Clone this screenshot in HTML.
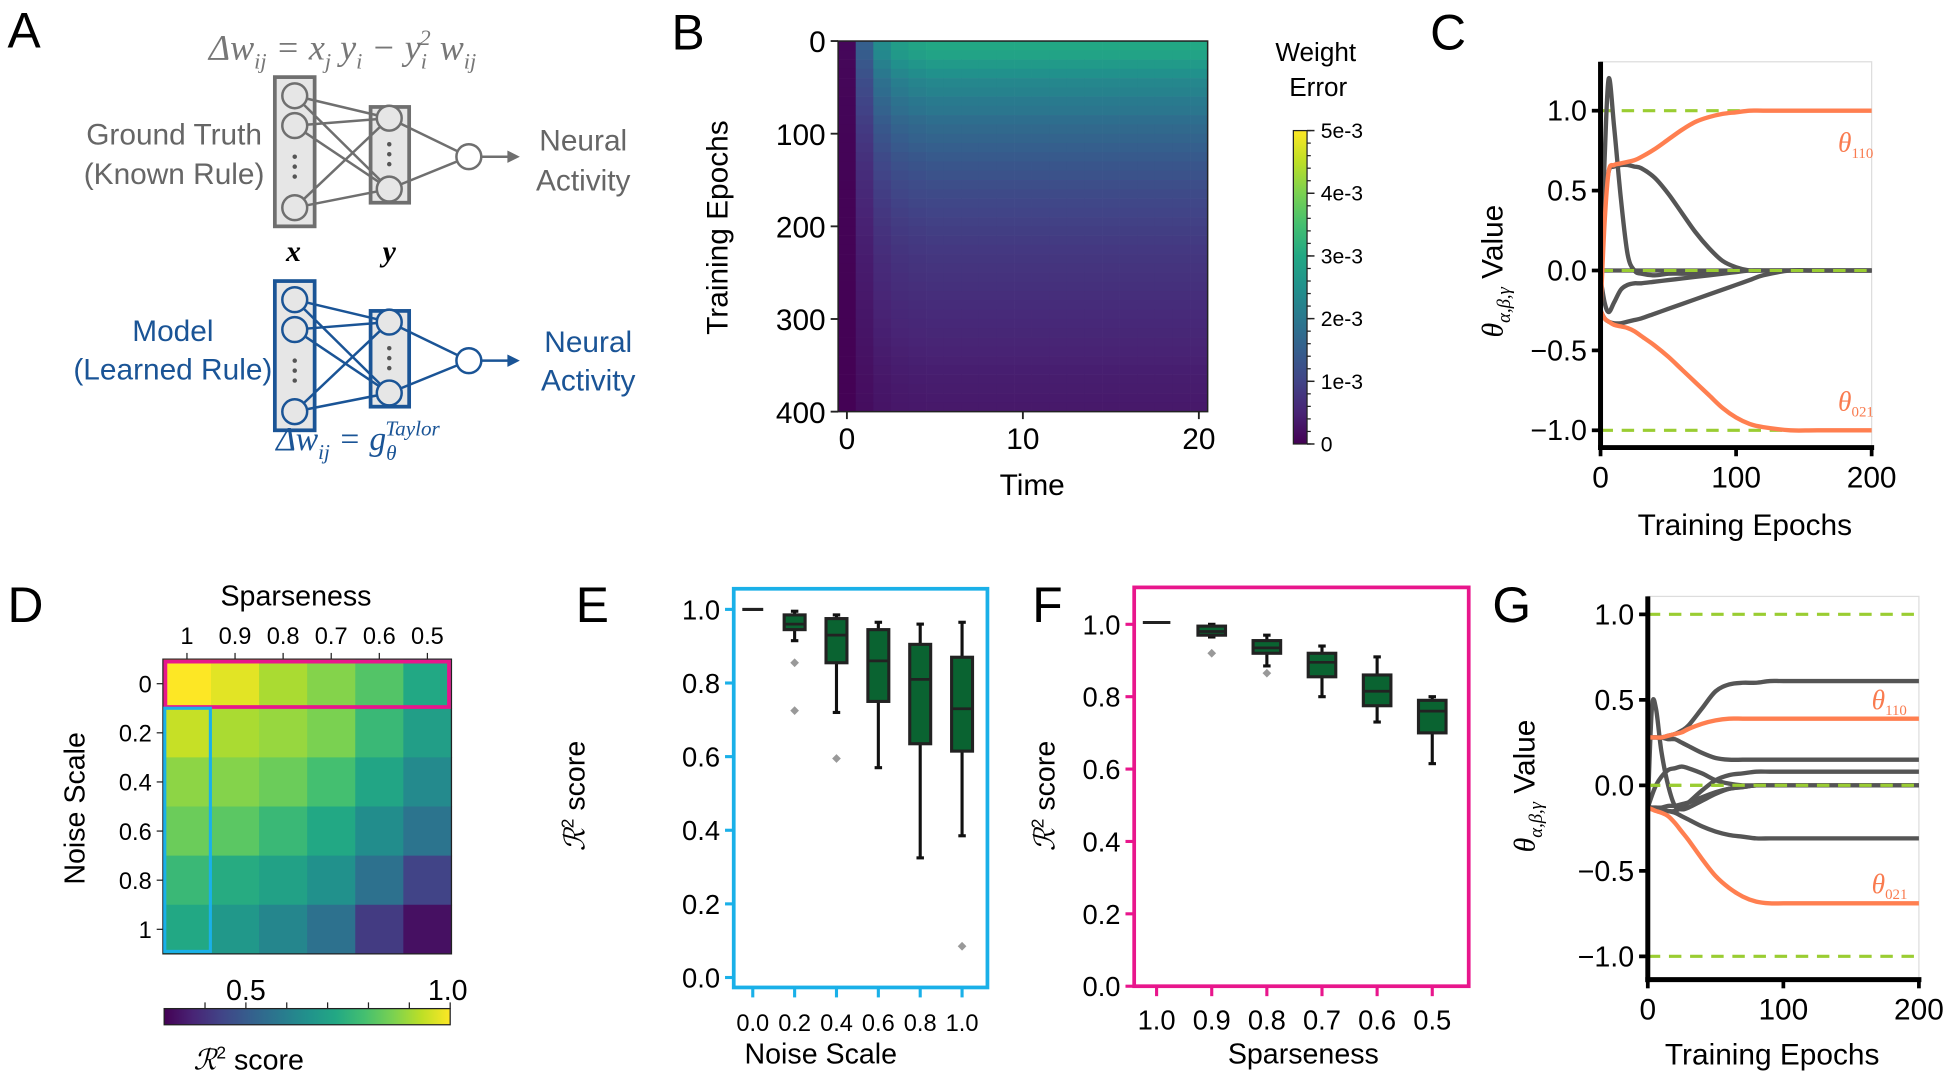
<!DOCTYPE html>
<html><head><meta charset="utf-8">
<style>
html,body{margin:0;padding:0;background:#fff;}
svg{display:block;}
text{font-family:"Liberation Sans",sans-serif;}
.m{font-family:"Liberation Serif",serif;font-style:italic;}
</style></head>
<body>
<svg id="fig" width="1950" height="1077" viewBox="0 0 1568 866" preserveAspectRatio="none" xmlns="http://www.w3.org/2000/svg">
<defs>
<linearGradient id="vir-h" x1="0" y1="0" x2="1" y2="0"></linearGradient>
<linearGradient id="vir-v" x1="0" y1="1" x2="0" y2="0"></linearGradient>
</defs>
<!-- Panel A -->
<g>
<text x="6" y="38" font-size="40">A</text>
<text x="168" y="48" font-size="29" fill="#777" class="m">Δw<tspan font-size="18" dy="7">ij</tspan><tspan dy="-7"> = x</tspan><tspan font-size="18" dy="7">j</tspan><tspan dy="-7"> y</tspan><tspan font-size="18" dy="7">i</tspan><tspan dy="-7"> − y</tspan><tspan font-size="18" dy="7">i</tspan><tspan font-size="18" dy="-19" dx="-6">2</tspan><tspan dy="12"> w</tspan><tspan font-size="18" dy="7">ij</tspan></text>
<g id="netTop"></g>
<g id="netBot"></g>
<text x="140" y="116" font-size="24" fill="#666" text-anchor="middle">Ground Truth</text>
<text x="140" y="148" font-size="24" fill="#666" text-anchor="middle">(Known Rule)</text>
<text x="469" y="121" font-size="24" fill="#666" text-anchor="middle">Neural</text>
<text x="469" y="153" font-size="24" fill="#666" text-anchor="middle">Activity</text>
<text x="236" y="210" font-size="24" font-weight="bold" class="m" text-anchor="middle">x</text>
<text x="313" y="210" font-size="24" font-weight="bold" class="m" text-anchor="middle">y</text>
<text x="139" y="274" font-size="24" fill="#1a5496" text-anchor="middle">Model</text>
<text x="139" y="305" font-size="24" fill="#1a5496" text-anchor="middle">(Learned Rule)</text>
<text x="473" y="283" font-size="24" fill="#1a5496" text-anchor="middle">Neural</text>
<text x="473" y="314" font-size="24" fill="#1a5496" text-anchor="middle">Activity</text>
<text x="222" y="362" font-size="27" fill="#1a5496" class="m">Δw<tspan font-size="17" dy="7">ij</tspan><tspan dy="-7"> = g</tspan><tspan font-size="17" dy="8">θ</tspan><tspan font-size="17" dy="-20" dx="-9">Taylor</tspan></text>
</g>
<!-- Panel B -->
<g>
<text x="540" y="40" font-size="40">B</text>
<g id="bHeat"></g>
<g id="bAxes"></g>
<text transform="translate(585,183) rotate(-90)" font-size="24" text-anchor="middle">Training Epochs</text>
<text x="830" y="398" font-size="24" text-anchor="middle">Time</text>
<text x="1058" y="49" font-size="21" text-anchor="middle">Weight</text>
<text x="1060" y="77" font-size="21" text-anchor="middle">Error</text>
<rect x="1040" y="105" width="11" height="252" fill="url(#vir-v)" stroke="#222" stroke-width="1"/>
<g id="bCbar"></g>
</g>
<!-- Panel C -->
<g>
<text x="1150" y="40" font-size="40">C</text>
<g id="cPlot"></g>
<text x="1403" y="430" font-size="24" text-anchor="middle">Training Epochs</text>
<text transform="translate(1208,218) rotate(-90)" font-size="24" text-anchor="middle"><tspan class="m">θ</tspan><tspan class="m" font-size="15" dy="6">α,β,γ</tspan><tspan dy="-6"> Value</tspan></text>
<text x="1478" y="122" font-size="22" fill="#f97b4f" class="m">θ<tspan font-size="12" dy="5" font-style="normal">110</tspan></text>
<text x="1478" y="330" font-size="22" fill="#f97b4f" class="m">θ<tspan font-size="12" dy="5" font-style="normal">021</tspan></text>
</g>
<!-- Panel D -->
<g>
<text x="6" y="500" font-size="40">D</text>
<text x="238" y="487" font-size="23" text-anchor="middle">Sparseness</text>
<g id="dHeat"></g>
<text transform="translate(68,650) rotate(-90)" font-size="23" text-anchor="middle">Noise Scale</text>
<rect x="132" y="811" width="230" height="13" fill="url(#vir-h)" stroke="#222" stroke-width="1"/>
<g id="dCbar"></g>
<text x="200" y="860" font-size="23" text-anchor="middle"><tspan class="m" font-family="Liberation Serif">ℛ</tspan><tspan font-size="14" dy="-9">2</tspan><tspan dy="9"> score</tspan></text>
</g>
<!-- Panel E -->
<g>
<text x="463" y="500" font-size="40">E</text>
<g id="ePlot"></g>
<text transform="translate(470,640) rotate(-90)" font-size="23" text-anchor="middle"><tspan class="m">ℛ</tspan><tspan font-size="14" dy="-9">2</tspan><tspan dy="9"> score</tspan></text>
<text x="660" y="855" font-size="23" text-anchor="middle">Noise Scale</text>
</g>
<!-- Panel F -->
<g>
<text x="830" y="500" font-size="40">F</text>
<g id="fPlot"></g>
<text transform="translate(848,640) rotate(-90)" font-size="23" text-anchor="middle"><tspan class="m">ℛ</tspan><tspan font-size="14" dy="-9">2</tspan><tspan dy="9"> score</tspan></text>
<text x="1048" y="855" font-size="23" text-anchor="middle">Sparseness</text>
</g>
<!-- Panel G -->
<g>
<text x="1200" y="500" font-size="40">G</text>
<g id="gPlot"></g>
<text x="1425" y="856" font-size="24" text-anchor="middle">Training Epochs</text>
<text transform="translate(1234,632) rotate(-90)" font-size="24" text-anchor="middle"><tspan class="m">θ</tspan><tspan class="m" font-size="15" dy="6">α,β,γ</tspan><tspan dy="-6"> Value</tspan></text>
<text x="1505" y="570" font-size="22" fill="#f97b4f" class="m">θ<tspan font-size="12" dy="5" font-style="normal">110</tspan></text>
<text x="1505" y="718" font-size="22" fill="#f97b4f" class="m">θ<tspan font-size="12" dy="5" font-style="normal">021</tspan></text>
</g>
</svg>
<script>
// ---------- DATA ----------
// Panel B: mean weight error (x1e-3) per 10-epoch band, and per-time-step factor
const bEpochBands = [3.0,2.9,2.7,2.5,2.3,2.2,2.05,1.95,1.8,1.7,1.6,1.5,1.4,1.32,1.25,1.18,1.12,1.06,1.0,0.95,0.9,0.86,0.82,0.78,0.75,0.72,0.69,0.66,0.63,0.6,0.57,0.54,0.51,0.48,0.45,0.42,0.4,0.38,0.36,0.34];
const bTimeFactor = [0.03,0.5,0.8,0.92,0.97,1,1,1,1,1,1,1,1,1,1,1,1,1,1,1,1];
const bYTicks = [0,100,200,300,400];
const bXTicks = [0,10,20];
const bCbarTicks = [0,1,2,3,4,5];
const bCbarLabels = ['0','1e-3','2e-3','3e-3','4e-3','5e-3'];
// Panel C lines
const cEpochs = [0,3,6,10,15,20,25,30,40,50,60,70,80,90,100,110,120,140,160,200];
const cTheta110 = [-0.25,0.3,0.62,0.66,0.67,0.68,0.69,0.71,0.76,0.82,0.88,0.93,0.96,0.98,0.99,1.0,1.0,1.0,1.0,1.0];
const cTheta021 = [-0.25,-0.3,-0.32,-0.34,-0.35,-0.36,-0.38,-0.41,-0.47,-0.54,-0.62,-0.7,-0.78,-0.86,-0.92,-0.96,-0.98,-1.0,-1.0,-1.0];
const cGrayA = [0,0.7,1.2,0.9,0.45,0.1,0.0,-0.02,-0.03,-0.02,-0.02,-0.02,-0.01,-0.01,0,0,0,0,0,0];
const cGrayB = [0,0.4,0.62,0.65,0.66,0.66,0.65,0.64,0.58,0.48,0.36,0.24,0.14,0.06,0.02,0.0,0,0,0,0];
const cGrayC = [-0.05,-0.2,-0.26,-0.2,-0.12,-0.09,-0.08,-0.08,-0.07,-0.06,-0.05,-0.04,-0.03,-0.02,-0.01,0,0,0,0,0];
const cGrayD = [-0.25,-0.3,-0.32,-0.33,-0.33,-0.32,-0.31,-0.3,-0.27,-0.24,-0.21,-0.18,-0.15,-0.12,-0.09,-0.06,-0.03,0,0,0];
const cGrayE = [0,0,0,0,0,0,0,0,0,0,0,0,0,0,0,0,0,0,0,0];
// Panel D heatmap
const dNoise = ['0','0.2','0.4','0.6','0.8','1'];
const dSparse = ['1','0.9','0.8','0.7','0.6','0.5'];
const dValues = [
 [1.00,0.97,0.91,0.87,0.81,0.72],
 [0.94,0.91,0.89,0.86,0.77,0.69],
 [0.88,0.87,0.84,0.79,0.71,0.63],
 [0.84,0.82,0.77,0.72,0.64,0.57],
 [0.77,0.73,0.70,0.65,0.56,0.44],
 [0.72,0.67,0.62,0.56,0.42,0.33]];
const dCbarTicks = [0.4,0.5,0.6,0.7,0.8,0.9,1.0];
// Panel E boxplots
const eCats = ['0.0','0.2','0.4','0.6','0.8','1.0'];
const eLo  = [1.0,0.915,0.72,0.57,0.325,0.385];
const eQ1  = [1.0,0.945,0.855,0.75,0.635,0.615];
const eMed = [1.0,0.96,0.93,0.86,0.81,0.73];
const eQ3  = [1.0,0.985,0.975,0.945,0.905,0.87];
const eHi  = [1.0,0.995,0.985,0.965,0.96,0.965];
const eOut = [[],[0.855,0.725],[0.595],[],[],[0.085]];
const eYTicks = [0,0.2,0.4,0.6,0.8,1.0];
// Panel F boxplots
const fCats = ['1.0','0.9','0.8','0.7','0.6','0.5'];
const fLo  = [1.005,0.965,0.885,0.80,0.73,0.615];
const fQ1  = [1.005,0.97,0.92,0.855,0.775,0.70];
const fMed = [1.005,0.98,0.935,0.895,0.815,0.76];
const fQ3  = [1.005,0.995,0.955,0.92,0.86,0.79];
const fHi  = [1.005,1.0,0.97,0.94,0.91,0.80];
const fOut = [[],[0.92],[0.865],[],[],[]];
const fYTicks = [0,0.2,0.4,0.6,0.8,1.0];
// Panel G lines
const gEpochs = [0,3,6,10,15,20,25,30,40,50,60,70,80,90,100,120,150,200];
const gTheta110 = [0.28,0.28,0.28,0.28,0.29,0.3,0.31,0.33,0.36,0.38,0.39,0.39,0.39,0.39,0.39,0.39,0.39,0.39];
const gTheta021 = [-0.13,-0.14,-0.15,-0.16,-0.18,-0.22,-0.27,-0.32,-0.43,-0.53,-0.6,-0.65,-0.68,-0.69,-0.69,-0.69,-0.69,-0.69];
const gGrayA = [0.28,0.28,0.28,0.28,0.29,0.3,0.32,0.35,0.45,0.55,0.59,0.6,0.6,0.61,0.61,0.61,0.61,0.61];
const gGrayB = [-0.13,0.45,0.45,0.2,0.0,-0.12,-0.14,-0.13,-0.09,-0.05,-0.02,-0.01,0,0,0,0,0,0];
const gGrayC = [0.28,0.28,0.28,0.28,0.27,0.27,0.25,0.23,0.19,0.16,0.15,0.15,0.15,0.15,0.15,0.15,0.15,0.15];
const gGrayD = [-0.13,-0.06,0.0,0.05,0.09,0.1,0.11,0.1,0.07,0.03,0.01,0,0,0,0,0,0,0];
const gGrayE = [-0.13,-0.14,-0.14,-0.15,-0.15,-0.15,-0.13,-0.1,-0.03,0.03,0.06,0.07,0.08,0.08,0.08,0.08,0.08,0.08];
const gGrayF = [-0.13,-0.13,-0.14,-0.14,-0.15,-0.16,-0.18,-0.2,-0.24,-0.27,-0.29,-0.3,-0.31,-0.31,-0.31,-0.31,-0.31,-0.31];
const gGrayG = [-0.13,-0.13,-0.13,-0.13,-0.12,-0.12,-0.11,-0.1,-0.07,-0.04,-0.02,-0.01,0,0,0,0,0,0];
const thetaTicks = [-1,-0.5,0,0.5,1];
const epochTicks = [0,100,200];

// ---------- HELPERS ----------
const NS='http://www.w3.org/2000/svg';
function mk(tag, parent, attrs){const e=document.createElementNS(NS,tag);for(const k in attrs)e.setAttribute(k,attrs[k]);parent.appendChild(e);return e;}
const VIR=[[68,1,84],[72,36,117],[65,68,135],[53,95,141],[42,120,142],[33,145,140],[34,168,132],[68,191,112],[122,209,81],[189,223,38],[253,231,37]];
function viridis(t){t=Math.max(0,Math.min(1,t));const p=t*10,i=Math.min(9,Math.floor(p)),f=p-i;const a=VIR[i],b=VIR[i+1];return 'rgb('+a.map((v,k)=>Math.round(v+(b[k]-v)*f)).join(',')+')';}
['vir-h','vir-v'].forEach(id=>{const g=document.getElementById(id);for(let i=0;i<=10;i++){const s=document.createElementNS(NS,'stop');s.setAttribute('offset',i/10);s.setAttribute('stop-color',viridis(i/10));g.appendChild(s);}});
function smoothPath(pts){let d='M'+pts[0][0]+','+pts[0][1];for(let i=0;i<pts.length-1;i++){const p0=pts[Math.max(0,i-1)],p1=pts[i],p2=pts[i+1],p3=pts[Math.min(pts.length-1,i+2)];const c1x=p1[0]+(p2[0]-p0[0])/6,c1y=p1[1]+(p2[1]-p0[1])/6,c2x=p2[0]-(p3[0]-p1[0])/6,c2y=p2[1]-(p3[1]-p1[1])/6;d+=' C'+c1x+','+c1y+' '+c2x+','+c2y+' '+p2[0]+','+p2[1];}return d;}
function txt(parent,x,y,s,size,anchor){const t=mk('text',parent,{x:x,y:y,'font-size':size,'text-anchor':anchor||'middle'});t.textContent=s;return t;}

// ---------- PANEL A network ----------
function network(g,color,oy){
  const xc=[77,101,167].map(v=>v+oy), yc=[95,152].map(v=>v+oy), out=[377,126+oy];
  mk('rect',g,{x:221,y:62+oy,width:32,height:120,fill:'#e6e6e6',stroke:color,'stroke-width':3});
  mk('rect',g,{x:298,y:86+oy,width:31,height:77,fill:'#e6e6e6',stroke:color,'stroke-width':3});
  xc.forEach(a=>yc.forEach(b=>mk('line',g,{x1:237,y1:a,x2:313,y2:b,stroke:color,'stroke-width':2})));
  yc.forEach(b=>mk('line',g,{x1:313,y1:b,x2:out[0],y2:out[1],stroke:color,'stroke-width':2}));
  xc.forEach(a=>mk('circle',g,{cx:237,cy:a,r:10,fill:'#e6e6e6',stroke:color,'stroke-width':2}));
  yc.forEach(b=>mk('circle',g,{cx:313,cy:b,r:10,fill:'#e6e6e6',stroke:color,'stroke-width':2}));
  [126,134,142].forEach(v=>mk('circle',g,{cx:237,cy:v+oy,r:1.8,fill:'#555'}));
  [116,124,132].forEach(v=>mk('circle',g,{cx:313,cy:v+oy,r:1.8,fill:'#555'}));
  mk('circle',g,{cx:out[0],cy:out[1],r:10,fill:'#fff',stroke:color,'stroke-width':2});
  mk('line',g,{x1:387,y1:out[1],x2:410,y2:out[1],stroke:color,'stroke-width':2});
  mk('path',g,{d:'M418,'+out[1]+' l-10,-5 l0,10 z',fill:color});
}
network(document.getElementById('netTop'),'#6f6f6f',0);
network(document.getElementById('netBot'),'#1a5496',164);

// ---------- PANEL B ----------
(function(){
  const g=document.getElementById('bHeat'), ax=document.getElementById('bAxes');
  const x=t=>681+t*14.15, y=e=>33+e*0.745, vmax=5;
  bEpochBands.forEach((v,r)=>{bTimeFactor.forEach((f,c)=>{
    const el=mk('rect',g,{x:x(c-0.5),y:y(r*10),width:14.4,height:7.7,fill:viridis(v*f/vmax)});
    
    
  });});
  mk('rect',ax,{x:x(-0.5),y:y(0),width:x(20.5)-x(-0.5),height:y(400)-y(0),fill:'none',stroke:'#222','stroke-width':1.2});
  bYTicks.forEach(t=>{mk('line',ax,{x1:x(-0.5)-6,y1:y(t),x2:x(-0.5),y2:y(t),stroke:'#222','stroke-width':1.5});txt(ax,x(-0.5)-10,y(t)+9,String(t),24,'end');});
  bXTicks.forEach(t=>{mk('line',ax,{x1:x(t),y1:y(400),x2:x(t),y2:y(400)+6,stroke:'#222','stroke-width':1.5});txt(ax,x(t),y(400)+30,String(t),24);});
  const cb=document.getElementById('bCbar'), cy=v=>357-v*50.4;
  for(let i=0;i<=25;i++){mk('line',cb,{x1:1051,y1:cy(i/5),x2:1054,y2:cy(i/5),stroke:'#222','stroke-width':1});}
  bCbarTicks.forEach((t,i)=>{mk('line',cb,{x1:1051,y1:cy(t),x2:1057,y2:cy(t),stroke:'#222','stroke-width':1.2});txt(cb,1062,cy(t)+6,bCbarLabels[i],17,'start');});
})();

// ---------- theta plots (C,G) ----------
function thetaPlot(gid,X0,X1,Y1,Ym1,yTop,yBot,epochs,oranges,grays){
  const g=document.getElementById(gid);
  const x=e=>X0+(X1-X0)*e/200, y=v=>Y1+(Ym1-Y1)*(1-v)/2;
  const ty=y(yTop), by=y(yBot);
  mk('rect',g,{x:X0,y:ty,width:X1-X0,height:by-ty,fill:'none',stroke:'#ddd','stroke-width':1});
  [1,0,-1].forEach(v=>{const l=mk('line',g,{x1:X0,y1:y(v),x2:X1,y2:y(v),stroke:'#9acd32','stroke-width':2.5,'stroke-dasharray':'10,7'});
    });
  grays.forEach(s=>{const p=mk('path',g,{d:smoothPath(epochs.map((e,i)=>[x(e),y(s[i])])),fill:'none',stroke:'#555','stroke-width':3.5,'stroke-linejoin':'round'});
    });
  mk('line',g,{x1:X0,y1:y(0),x2:X1,y2:y(0),stroke:'#9acd32','stroke-width':2.5,'stroke-dasharray':'10,7'});
  oranges.forEach(s=>{const p=mk('path',g,{d:smoothPath(epochs.map((e,i)=>[x(e),y(s[i])])),fill:'none',stroke:'#ff7f50','stroke-width':3.5});
    });
  mk('line',g,{x1:X0,y1:ty,x2:X0,y2:by+2,stroke:'#000','stroke-width':4});
  mk('line',g,{x1:X0-2,y1:by,x2:X1+2,y2:by,stroke:'#000','stroke-width':4});
  thetaTicks.forEach(t=>{mk('line',g,{x1:X0-7,y1:y(t),x2:X0,y2:y(t),stroke:'#000','stroke-width':3});txt(g,X0-11,y(t)+8,t.toFixed(1).replace('-','−'),23,'end');});
  epochTicks.forEach(t=>{mk('line',g,{x1:x(t),y1:by,x2:x(t),y2:by+7,stroke:'#000','stroke-width':3});txt(g,x(t),by+32,String(t),24);});
}
thetaPlot('cPlot',1287,1505,89,346,1.306,-1.108,cEpochs,[cTheta110,cTheta021],[cGrayA,cGrayB,cGrayC,cGrayD,cGrayE]);
thetaPlot('gPlot',1325,1543,494,769,1.105,-1.136,gEpochs,[gTheta110,gTheta021],[gGrayA,gGrayB,gGrayC,gGrayD,gGrayE,gGrayF,gGrayG]);

// ---------- PANEL D ----------
(function(){
  const g=document.getElementById('dHeat');
  const X0=131,Y0=530,W=232/6,H=237/6,lo=0.3,hi=1.0;
  dValues.forEach((row,r)=>row.forEach((v,c)=>{
    const el=mk('rect',g,{x:X0+c*W,y:Y0+r*H,width:W+0.5,height:H+0.5,fill:viridis((v-lo)/(hi-lo))});
    
    
  }));
  dSparse.forEach((s,c)=>{mk('line',g,{x1:X0+(c+0.5)*W,y1:Y0-5,x2:X0+(c+0.5)*W,y2:Y0,stroke:'#222','stroke-width':1});txt(g,X0+(c+0.5)*W,Y0-12,s,19);});
  dNoise.forEach((s,r)=>{mk('line',g,{x1:X0-5,y1:Y0+(r+0.5)*H,x2:X0,y2:Y0+(r+0.5)*H,stroke:'#222','stroke-width':1});txt(g,X0-9,Y0+(r+0.5)*H+7,s,19,'end');});
  mk('rect',g,{x:X0,y:Y0,width:232,height:237,fill:'none',stroke:'#222','stroke-width':1});
  const pk=mk('rect',g,{x:X0+2,y:Y0+2,width:232-4,height:H-3,fill:'none',stroke:'#e8168c','stroke-width':3});
  
  const bl=mk('rect',g,{x:X0+1.5,y:Y0+H,width:W-2,height:237-H-2,fill:'none',stroke:'#1ab0e8','stroke-width':2.5});
  
  const cb=document.getElementById('dCbar'), cx=v=>132+(v-lo)/(hi-lo)*230;
  dCbarTicks.forEach(t=>mk('line',cb,{x1:cx(t),y1:806,x2:cx(t),y2:811,stroke:'#222','stroke-width':1}));
  txt(cb,cx(0.5),804,'0.5',23);txt(cb,cx(1.0)-2,804,'1.0',23);
})();

// ---------- boxplots ----------
function boxPlot(gid,color,L,R,Y1,Y0,yTop,cats,lo,q1,med,q3,hi,outs,ticks,t0frac,spacingFrac,xfs){
  const g=document.getElementById(gid);
  const y=v=>Y0+(Y1-Y0)*v, W=R-L, xc=i=>L+W*(t0frac+i*spacingFrac), bw=W*spacingFrac*0.5;
  const ext=(gid==='ePlot'?8:0);
  mk('rect',g,{x:L,y:y(yTop),width:W,height:Y0-y(yTop)+ext,fill:'none',stroke:color,'stroke-width':3});
  const by=Y0+ext;
  ticks.forEach(t=>{mk('line',g,{x1:L-7,y1:y(t),x2:L,y2:y(t),stroke:color,'stroke-width':2.5});txt(g,L-11,y(t)+8,t.toFixed(1),22,'end');});
  cats.forEach((c,i)=>{mk('line',g,{x1:xc(i),y1:by,x2:xc(i),y2:by+8,stroke:color,'stroke-width':2.5});txt(g,xc(i),by+35,c,xfs);});
  cats.forEach((c,i)=>{
    const bx=mk('g',g,{});
    
    
    if(q3[i]-q1[i]<0.001){mk('line',bx,{x1:xc(i)-bw/2,y1:y(med[i]),x2:xc(i)+bw/2,y2:y(med[i]),stroke:'#222','stroke-width':2.5});return;}
    mk('line',bx,{x1:xc(i),y1:y(hi[i]),x2:xc(i),y2:y(q3[i]),stroke:'#111','stroke-width':2.5});
    mk('line',bx,{x1:xc(i),y1:y(q1[i]),x2:xc(i),y2:y(lo[i]),stroke:'#111','stroke-width':2.5});
    mk('line',bx,{x1:xc(i)-3,y1:y(hi[i]),x2:xc(i)+3,y2:y(hi[i]),stroke:'#111','stroke-width':2.5});
    mk('line',bx,{x1:xc(i)-3,y1:y(lo[i]),x2:xc(i)+3,y2:y(lo[i]),stroke:'#111','stroke-width':2.5});
    mk('rect',bx,{x:xc(i)-bw/2,y:y(q3[i]),width:bw,height:y(q1[i])-y(q3[i]),fill:'#0a6331',stroke:'#222','stroke-width':2.5});
    mk('line',bx,{x1:xc(i)-bw/2,y1:y(med[i]),x2:xc(i)+bw/2,y2:y(med[i]),stroke:'#222','stroke-width':2.2});
    outs[i].forEach(o=>{const d=mk('path',bx,{d:'M'+xc(i)+','+(y(o)-3.5)+' l3.5,3.5 l-3.5,3.5 l-3.5,-3.5 z',fill:'#999'});
      });
  });
}
boxPlot('ePlot','#1ab0e8',590,794,490,786,1.056,eCats,eLo,eQ1,eMed,eQ3,eHi,eOut,eYTicks,0.075,0.165,19);
boxPlot('fPlot','#e8168c',912,1181,502,793,1.102,fCats,fLo,fQ1,fMed,fQ3,fHi,fOut,fYTicks,0.067,0.1648,22);
</script>
</body></html>
